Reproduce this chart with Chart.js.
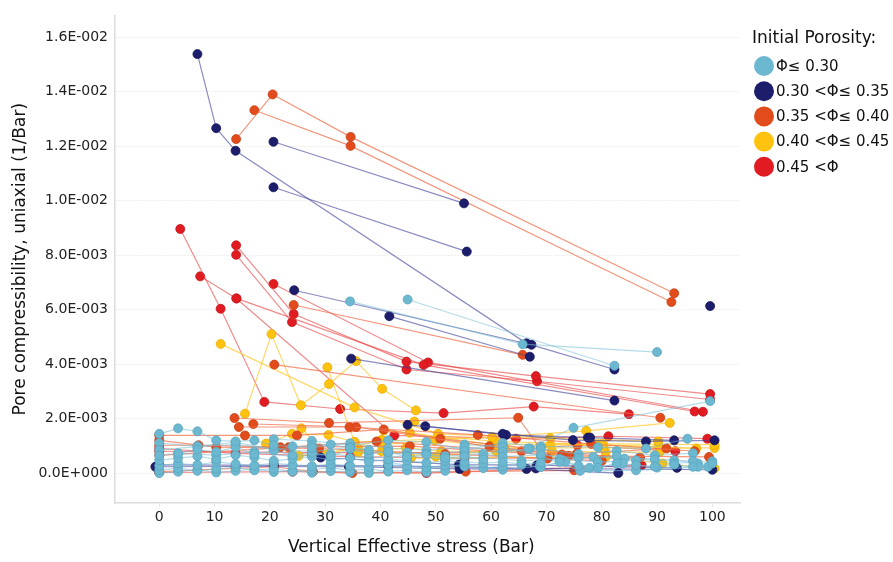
<!DOCTYPE html>
<html>
<head>
<meta charset="utf-8">
<script src="https://cdn.jsdelivr.net/npm/chart.js@4.4.1/dist/chart.umd.min.js"></script>
<style>
  body { margin: 0; background: #fff; }
  #wrap { width: 893px; height: 562px; }
</style>
</head>
<body>
<div id="wrap"><canvas id="myChart" width="893" height="562"></canvas></div>
<script>
// stress (Bar) vs compressibility (in 1E-3 1/Bar), one list of test curves per porosity class
const phi030 = [
    [[34.5, 6.30], [65.7, 4.73], [90.0, 4.44]],
    [[44.9, 6.37], [82.3, 3.94]],
    [[66.7, 0.90], [74.9, 1.66], [99.6, 2.64]],
    [[0, 1.44], [3.4, 1.64], [6.9, 1.53], [10.3, 1.20], [13.8, 1.16], [17.2, 1.20], [20.7, 1.02], [24.1, 0.98], [27.6, 0.93], [31.0, 1.05], [34.5, 0.92], [37.9, 0.85]],
    [[0, 0.65], [3.4, 0.72], [6.9, 0.86], [10.3, 0.78], [13.8, 0.95], [17.2, 0.70], [20.7, 0.82], [24.1, 0.66], [27.6, 0.74], [31.0, 0.62], [34.5, 0.88], [37.9, 0.70], [41.4, 0.78], [44.8, 0.60], [48.3, 0.68], [51.7, 0.55], [55.2, 0.62], [58.6, 0.50]],
    [[0, 0.47], [3.4, 0.55], [6.9, 0.62], [10.3, 0.50], [13.8, 0.66], [17.2, 0.58], [20.7, 0.45], [24.1, 0.52], [27.6, 0.60], [31.0, 0.48], [34.5, 0.55], [37.9, 0.42], [41.4, 0.50], [44.8, 0.46], [48.3, 0.38], [51.7, 0.44], [55.2, 0.40], [58.6, 0.36], [62.1, 0.41], [65.5, 0.33], [69.0, 0.38]],
    [[0, 0.27], [3.4, 0.35], [6.9, 0.30], [10.3, 0.41], [13.8, 0.33], [17.2, 0.28], [20.7, 0.36], [24.1, 0.30], [27.6, 0.25], [31.0, 0.33], [34.5, 0.27], [37.9, 0.22], [41.4, 0.30], [44.8, 0.26], [48.3, 0.20], [51.7, 0.28], [55.2, 0.24], [58.6, 0.18], [62.1, 0.25], [65.5, 0.30], [69.0, 0.22], [72.4, 0.41], [75.8, 0.27], [79.3, 0.19], [82.7, 0.35], [86.2, 0.29], [89.6, 0.24], [93.1, 0.31], [96.5, 0.23], [100, 0.35]],
    [[0, 0.11], [3.4, 0.18], [6.9, 0.08], [10.3, 0.15], [13.8, 0.22], [17.2, 0.10], [20.7, 0.16], [24.1, 0.05], [27.6, 0.12], [31.0, 0.20], [34.5, 0.09], [37.9, 0.14], [41.4, 0.06], [44.8, 0.10], [48.3, 0.03], [51.7, 0.08]],
    [[0, 0.00], [3.4, 0.05], [6.9, 0.12], [10.3, 0.02], [13.8, 0.08], [17.2, 0.15], [20.7, 0.04], [24.1, 0.10], [27.6, 0.01], [31.0, 0.07], [34.5, 0.03], [37.9, 0.00], [41.4, 0.06]],
    [[0, 0.85], [6.9, 0.97], [13.8, 1.05], [20.7, 0.88], [27.6, 0.79], [34.5, 0.94], [41.4, 0.73], [48.3, 0.71], [55.2, 0.80], [62.1, 0.60], [69.0, 0.67], [75.8, 0.56], [82.7, 0.62], [89.6, 0.49], [96.5, 0.44]],
    [[3.4, 0.72], [10.3, 0.66], [17.2, 0.78], [24.1, 0.60], [31.0, 0.70], [37.9, 0.55], [44.8, 0.63], [51.7, 0.50], [58.6, 0.57], [65.5, 0.45], [72.4, 0.52], [79.3, 0.40], [86.2, 0.47], [93.1, 0.36], [100, 0.43]],
    [[0, 1.10], [6.9, 0.99], [13.8, 1.13], [20.7, 0.87], [27.6, 1.02], [34.5, 1.09], [41.4, 0.91], [48.3, 0.84], [55.2, 0.96], [62.1, 0.78], [69.0, 0.89], [75.8, 0.70], [82.7, 0.81], [89.6, 0.65], [96.5, 0.73]],
    [[41.4, 0.40], [48.3, 0.15], [55.2, 0.32], [62.1, 0.12], [68.8, 0.25], [73.4, 0.41], [77.8, 0.19], [83.8, 0.35], [90.0, 0.20], [97.4, 0.23]],
    [[44.8, 0.75], [51.7, 0.62], [58.6, 0.70], [67.0, 0.90], [72.9, 0.47], [78.5, 0.59], [84.1, 0.53], [93.1, 0.47], [97.4, 0.35]],
    [[55.2, 1.05], [62.1, 0.95], [69.0, 0.62], [76.1, 0.08], [86.2, 0.10], [99.2, 0.23]],
    [[20.7, 1.24], [27.6, 1.18], [34.5, 1.02], [41.4, 1.20], [48.3, 1.14], [55.2, 0.85], [62.1, 1.10], [69.0, 0.98], [79.3, 0.95], [88.0, 0.90], [95.5, 1.26]]
];

const phi035 = [
    [[6.9, 15.38], [10.3, 12.66], [13.8, 11.83], [66.4, 4.76], [82.3, 3.80]],
    [[20.65, 12.16], [55.1, 9.90]],
    [[20.65, 10.49], [55.6, 8.13]],
    [[24.4, 6.71], [67.3, 4.71]],
    [[41.6, 5.76], [67.0, 4.27]],
    [[34.7, 4.20], [82.3, 2.66]],
    [[99.6, 6.13]],
    [[44.9, 1.77], [62.1, 1.44], [74.8, 1.21], [88.0, 1.16], [100.4, 1.20]],
    [[48.1, 1.72], [62.7, 1.40], [77.5, 1.30], [77.9, 1.30], [93.1, 1.20]],
    [[-0.7, 0.23], [13.8, 0.24], [34.3, 0.23], [54.3, 0.15], [66.4, 0.15], [83.0, 0.00]],
    [[29.2, 0.57], [54.2, 0.31], [68.3, 0.29], [93.6, 0.19]],
    [[0, 0.30], [20.7, 0.28], [41.4, 0.26], [68.1, 0.17], [100, 0.12]]
];

const phi040 = [
    [[13.9, 12.26], [20.5, 13.90], [34.6, 12.34], [93.1, 6.60]],
    [[17.2, 13.32], [34.6, 12.01], [92.6, 6.28]],
    [[24.3, 6.17], [65.7, 4.34]],
    [[20.8, 3.98], [90.6, 2.03]],
    [[13.6, 2.02], [30.7, 1.84], [64.9, 2.03], [70.2, 0.53]],
    [[14.4, 1.69], [34.4, 1.69], [57.6, 1.40], [78.1, 1.07], [96.8, 0.80]],
    [[17.0, 1.80], [35.6, 1.69], [59.7, 0.98], [72.8, 0.68]],
    [[0, 1.38], [15.5, 1.38], [24.9, 1.38], [40.6, 1.60], [50.8, 1.26], [75.5, 0.71], [91.7, 0.90]],
    [[0, 1.02], [7.1, 1.02], [21.9, 0.95], [45.3, 0.99], [74.0, 0.63], [99.4, 0.59]],
    [[0, 0.65], [23.4, 0.95], [39.3, 1.16], [65.5, 0.80], [86.9, 0.56]],
    [[0, 0.05], [20.8, 0.23], [27.8, 0.05], [34.9, 0.00], [55.4, 0.05], [75.0, 0.10]],
    [[0, 1.20], [10.3, 0.95], [28.9, 0.90], [51.7, 0.70], [80.0, 0.45]]
];

const phi045 = [
    [[15.5, 2.18], [20.3, 5.10], [25.6, 2.49], [30.7, 3.27], [35.6, 4.11], [40.3, 3.09], [46.4, 2.30]],
    [[11.1, 4.74], [35.3, 2.41], [50.4, 1.44], [70.7, 1.28], [90.2, 1.16]],
    [[30.4, 3.88], [35.3, 1.14], [60.2, 1.32], [77.2, 1.55], [92.3, 1.84]],
    [[46.1, 1.89], [50.7, 1.35], [60.7, 1.16], [79.1, 1.04], [97.1, 0.90]],
    [[40.6, 1.56], [45.3, 1.48], [60.0, 1.04], [80.2, 1.07], [100.4, 1.04]],
    [[40.2, 1.04], [49.8, 1.20], [62.4, 0.93], [80.3, 0.92], [100.4, 0.92]],
    [[36.0, 0.77], [44.6, 0.92], [51.0, 0.80], [60.9, 0.80], [71.0, 0.80], [80.7, 0.77], [90.5, 0.77]],
    [[40.2, 0.80], [50.0, 0.60], [70.7, 1.04], [90.3, 0.98]],
    [[45.5, 0.55], [80.7, 0.59], [91.0, 0.35], [100.4, 0.17]],
    [[19.3, 1.08], [24.0, 1.44], [30.6, 1.40], [35.3, 1.14]],
    [[25.7, 1.64], [30.3, 0.69], [40.2, 1.22]],
    [[25.2, 0.63], [36.0, 0.90]]
];

const phiOver045 = [
    [[3.8, 8.96], [11.1, 6.03], [19.0, 2.61], [32.7, 2.35], [51.4, 2.20], [67.7, 2.44], [84.9, 2.16]],
    [[7.4, 7.22], [13.95, 6.41], [47.8, 3.97], [96.8, 2.26]],
    [[13.9, 8.36], [24.3, 5.84], [44.7, 4.09], [68.1, 3.56], [99.6, 2.90]],
    [[13.9, 8.01], [24.0, 5.54], [44.7, 3.80], [68.3, 3.37], [99.6, 2.70]],
    [[20.65, 6.94], [48.6, 4.06], [98.3, 2.25]],
    [[13.95, 6.41], [42.5, 1.38], [64.5, 1.26], [81.2, 1.35], [99.1, 1.26]],
    [[0, 0.90], [13.8, 0.72], [34.5, 0.60], [55.2, 0.55], [86.9, 0.56]],
    [[0, 0.02], [24.1, 0.05], [48.3, 0.00], [87.2, 0.29]],
    [[0, 0.80], [27.6, 0.75], [55.2, 0.75], [75.6, 1.02], [93.3, 0.80]]
];

const classLabels = ['Φ≤ 0.30', '0.30 <Φ≤ 0.35', '0.35 <Φ≤ 0.40', '0.40 <Φ≤ 0.45', '0.45 <Φ'];
const xTicks = [0, 10, 20, 30, 40, 50, 60, 70, 80, 90, 100];
const yTicks = [0, 2, 4, 6, 8, 10, 12, 14, 16];

const pointColors = ['#6db8d1', '#1c1e6c', '#e24b1c', '#ffc20f', '#e01b22'];
const edgeColors = ['#5aa6bf', '#15175a', '#c94015', '#e8ad05', '#c5151b'];
const lineColors = ['rgba(120,190,215,0.55)', 'rgba(60,62,150,0.6)', 'rgba(240,115,80,0.75)',
                    'rgba(255,200,40,0.7)', 'rgba(232,60,60,0.6)'];

const groups = [phi030, phi035, phi040, phi045, phiOver045];

const datasets = [];
groups.forEach((series, g) => {
    series.forEach(s => {
        datasets.push({
            data: s.map(([x, y]) => ({ x: x, y: y })),
            showLine: true,
            borderColor: lineColors[g],
            borderWidth: 1.2,
            backgroundColor: pointColors[g],
            pointBackgroundColor: pointColors[g],
            pointBorderColor: edgeColors[g],
            pointBorderWidth: 0.8,
            pointRadius: 4.5,
            tension: 0
        });
    });
});

// 1.6e-2 -> 1.6E-002
function sciLabel(v) {
    const parts = (v / 1000).toExponential(1).split('e');
    const exp = parseInt(parts[1], 10);
    const sign = exp < 0 ? '-' : '+';
    return parts[0] + 'E' + sign + String(Math.abs(exp)).padStart(3, '0');
}

const porosityLegend = {
    id: 'porosityLegend',
    afterDraw(chart) {
        const ctx = chart.ctx;
        ctx.save();
        ctx.fillStyle = '#111';
        ctx.textBaseline = 'middle';
        ctx.font = '17px "DejaVu Sans", sans-serif';
        ctx.fillText('Initial Porosity:', 752, 39);
        ctx.font = '15px "DejaVu Sans", sans-serif';
        classLabels.forEach((label, i) => {
            const cy = 66 + i * 25.2;
            ctx.beginPath();
            ctx.arc(764, cy, 10, 0, Math.PI * 2);
            ctx.fillStyle = pointColors[i];
            ctx.fill();
            ctx.fillStyle = '#111';
            ctx.fillText(label, 776, cy + 1);
        });
        ctx.restore();
    }
};

const ctx = document.getElementById('myChart');
const myChartInstance = new Chart(ctx, {
    type: 'scatter',
    data: { datasets: datasets },
    plugins: [porosityLegend],
    options: {
        responsive: false,
        animation: false,
        devicePixelRatio: 1,
        layout: { padding: { top: 10, right: 153, left: 0, bottom: 0 } },
        plugins: {
            legend: { display: false },
            tooltip: { enabled: false }
        },
        scales: {
            x: {
                type: 'linear',
                min: -8,
                max: 105,
                afterBuildTicks: scale => { scale.ticks = xTicks.map(v => ({ value: v })); },
                afterFit: scale => { scale.height = 59; },
                grid: { display: true, drawOnChartArea: false, drawTicks: true, tickLength: 4, color: '#e6e6e6' },
                border: { display: true, color: '#dcdcdc', width: 1.5 },
                ticks: { color: '#222', padding: 2, maxRotation: 0, font: { family: 'DejaVu Sans', size: 14 } },
                title: {
                    display: true,
                    // trailing spaces sit the title a little left of the axis centre
                    text: 'Vertical Effective stress (Bar)\u00a0\u00a0\u00a0\u00a0\u00a0\u00a0',
                    color: '#111',
                    padding: { top: 0, bottom: 4 },
                    font: { family: 'DejaVu Sans', size: 17 }
                }
            },
            y: {
                type: 'linear',
                min: -1.1,
                max: 16.8,
                afterBuildTicks: scale => { scale.ticks = yTicks.map(v => ({ value: v })); },
                afterFit: scale => { scale.width = 115; },
                grid: { drawTicks: false, color: 'rgba(0,0,0,0.12)' },
                border: { display: true, color: '#dcdcdc', width: 1.5, dash: [1, 2] },
                ticks: { color: '#222', padding: 7, font: { family: 'DejaVu Sans', size: 14 }, callback: v => sciLabel(v) },
                title: {
                    display: true,
                    text: 'Pore compressibility, uniaxial (1/Bar)',
                    color: '#111',
                    padding: { top: 10, bottom: 0 },
                    font: { family: 'DejaVu Sans', size: 17 }
                }
            }
        }
    }
});
</script>
</body>
</html>
